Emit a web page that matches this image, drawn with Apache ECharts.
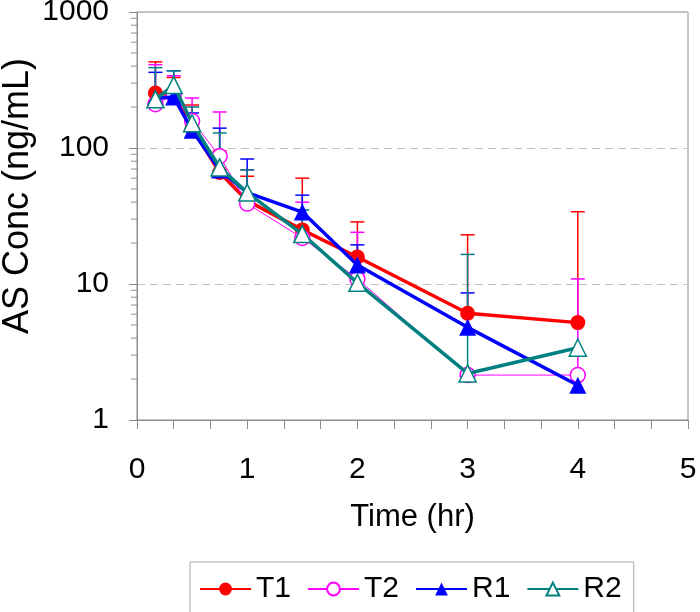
<!DOCTYPE html>
<html>
<head>
<meta charset="utf-8">
<script src="https://cdn.jsdelivr.net/npm/echarts@6/dist/echarts.min.js"></script>
<style>html,body{margin:0;padding:0;background:#fff}#c{width:700px;height:612px}</style>
</head>
<body>
<div id="c"></div>
<script>
var times = [0.167, 0.333, 0.5, 0.75, 1, 1.5, 2, 3, 4];
var T1 = [254, 245, 140, 66, 41, 25, 15.8, 6.1, 5.2];
var T2 = [210, 245, 158, 87, 39, 21.8, 10.9, 2.14, 2.14];
var R1 = [232, 237, 135, 69, 47, 33.8, 13.8, 4.8, 1.8];
var R2 = [228, 290, 152, 72, 47, 23.3, 10.2, 2.2, 3.4];
var T1_up = [430, 330, 207, 95, 62, 60, 28.6, 23, 34];
var T2_up = [410, 340, 233, 184, 69, 40, 24, null, 10.9];
var R1_up = [360, 370, 181, 140, 83, 45, 19.4, 8.6, null];
var R2_up = [390, 370, 200, 129, 69, 35, 15, 16.5, null];
var yMinorTicks = [2,3,4,5,6,7,8,9,20,30,40,50,60,70,80,90,200,300,400,500,600,700,800,900];
var yTitle = 'AS Conc (ng/mL)';
var xTitle = 'Time (hr)';

var FONT = 'Liberation Sans, Arial, sans-serif';
function pts(v){ return times.map(function(t,i){ return [t, v[i]]; }); }
function errData(v, up){
  var out = [];
  times.forEach(function(t,i){ if (up[i] != null) out.push([t, v[i], up[i]]); });
  return out;
}
function errSeries(v, up, color){
  return {
    type: 'custom', silent: true, z: 1,
    data: errData(v, up),
    renderItem: function(params, api){
      var p0 = api.coord([api.value(0), api.value(1)]);
      var p1 = api.coord([api.value(0), api.value(2)]);
      var st = {stroke: color, lineWidth: 1.5};
      return {type: 'group', children: [
        {type: 'line', shape: {x1: p0[0], y1: p0[1], x2: p1[0], y2: p1[1]}, style: st},
        {type: 'line', shape: {x1: p1[0]-7, y1: p1[1], x2: p1[0]+7, y2: p1[1]}, style: st}
      ]};
    }
  };
}
var tri = 'path://M0,-10L8.66,5L-8.66,5Z';
var chart = echarts.init(document.getElementById('c'), null, {renderer: 'canvas'});
chart.setOption({
  animation: false,
  backgroundColor: '#fff',
  grid: {left: 137, right: 12, top: 12, bottom: 192, show: true, borderColor: '#8c8c8c', borderWidth: 1,
         containLabel: false, outerBoundsMode: 'none'},
  graphic: [{
    type: 'text', x: 18, y: 196, rotation: Math.PI / 2,
    style: {text: yTitle, fontFamily: FONT, fontSize: 36, fill: '#000', align: 'center', verticalAlign: 'middle'}
  }],
  legend: {
    left: 190, top: 562, orient: 'horizontal',
    borderColor: '#a6a6a6', borderWidth: 1, padding: [12, 12, 14, 9],
    itemWidth: 51, itemHeight: 16, itemGap: 16,
    textStyle: {fontFamily: FONT, fontSize: 30, color: '#000'},
    data: ['T1', 'T2', 'R1', 'R2']
  },
  xAxis: {
    type: 'value', min: 0, max: 5, interval: 1,
    name: xTitle, nameLocation: 'middle', nameGap: 82,
    nameTextStyle: {fontFamily: FONT, fontSize: 31, color: '#000'},
    axisLine: {lineStyle: {color: '#8c8c8c', width: 1}},
    axisTick: {show: true, length: 9, inside: false, lineStyle: {color: '#8c8c8c'}},
    minorTick: {show: true, splitNumber: 3, length: 9, lineStyle: {color: '#8c8c8c'}},
    axisLabel: {fontFamily: FONT, fontSize: 30, color: '#000', margin: 35},
    splitLine: {show: false}
  },
  yAxis: {
    type: 'log', logBase: 10, min: 1, max: 1000,
    axisLine: {show: true, lineStyle: {color: '#8c8c8c', width: 1}},
    axisTick: {show: true, length: 8, lineStyle: {color: '#8c8c8c'}},
    axisLabel: {fontFamily: FONT, fontSize: 30, color: '#000', margin: 28,
      formatter: function(v){ return String(Math.round(v)); }},
    splitLine: {show: true, lineStyle: {color: '#c0c0c0', type: [8, 5], width: 1}}
  },
  series: [
    errSeries(T1, T1_up, '#ff0000'),
    errSeries(T2, T2_up, '#ff00ff'),
    errSeries(R1, R1_up, '#0000ff'),
    errSeries(R2, R2_up, '#008080'),
    {
      type: 'custom', silent: true, z: 1, data: yMinorTicks.map(function(v){ return [0, v]; }),
      renderItem: function(params, api){
        var p = api.coord([0, api.value(1)]);
        return {type: 'line', shape: {x1: p[0]-6, y1: p[1], x2: p[0], y2: p[1]}, style: {stroke: '#8c8c8c', lineWidth: 1}};
      }
    },
    {name: 'T1', type: 'line', data: pts(T1), z: 3, symbol: 'circle', symbolSize: 15,
     lineStyle: {color: '#ff0000', width: 3.5}, itemStyle: {color: '#ff0000'}},
    {name: 'T2', type: 'line', data: pts(T2), z: 3, symbol: 'circle', symbolSize: 15,
     lineStyle: {color: '#ff00ff', width: 1}, itemStyle: {color: '#ffffff', borderColor: '#ff00ff', borderWidth: 1.5}},
    {name: 'R1', type: 'line', data: pts(R1), z: 4, symbol: tri, symbolSize: 17,
     lineStyle: {color: '#0000ff', width: 3.5}, itemStyle: {color: '#0000ff'}},
    {name: 'R2', type: 'line', data: pts(R2), z: 5, symbol: tri, symbolSize: 17,
     lineStyle: {color: '#008080', width: 3.5}, itemStyle: {color: '#ffffff', borderColor: '#008080', borderWidth: 1.5}}
  ]
});
</script>
</body>
</html>
